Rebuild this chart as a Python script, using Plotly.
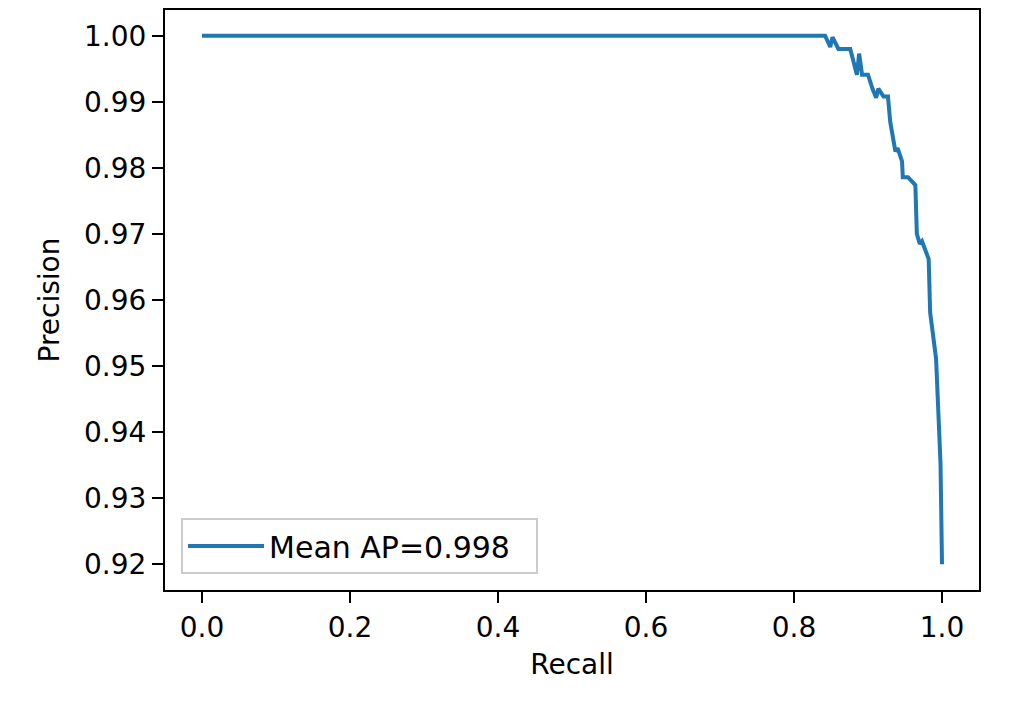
import plotly.graph_objects as go

recall = [0.0, 0.842, 0.849, 0.852, 0.860, 0.876, 0.885, 0.888, 0.892, 0.900,
          0.906, 0.911, 0.914, 0.921, 0.927, 0.930, 0.937, 0.940, 0.946, 0.947,
          0.954, 0.964, 0.966, 0.970, 0.973, 0.982, 0.984, 0.992, 0.995, 0.998, 1.0]
precision = [1.0, 1.0, 0.9983, 0.9998, 0.9980, 0.9980, 0.9941, 0.9973, 0.9941, 0.9941,
             0.9920, 0.9906, 0.9920, 0.9908, 0.9908, 0.9870, 0.9825, 0.9830, 0.9810, 0.9786,
             0.9786, 0.9774, 0.9700, 0.9685, 0.9689, 0.9662, 0.9581, 0.9511, 0.9432, 0.9352, 0.920]
series_name = "Mean AP=0.998"
x_ticks = [0.0, 0.2, 0.4, 0.6, 0.8, 1.0]
y_ticks = [0.92, 0.93, 0.94, 0.95, 0.96, 0.97, 0.98, 0.99, 1.00]

FONT = "DejaVu Sans"
FS = 28

fig = go.Figure()
fig.add_trace(go.Scatter(x=recall, y=precision, mode="lines", name=series_name,
                         line=dict(color="#1f77b4", width=4)))

axis_common = dict(showgrid=False, zeroline=False, showline=True, linecolor="black",
                   linewidth=2, mirror=True, ticks="outside", ticklen=11, tickwidth=2,
                   tickcolor="black", tickfont=dict(family=FONT, size=FS, color="black"))

fig.update_xaxes(range=[-0.05, 1.05], tickvals=x_ticks, ticktext=[f"{v:.1f}" for v in x_ticks],
                 title=dict(text="Recall", font=dict(family=FONT, size=FS, color="black"), standoff=12),
                 **axis_common)
fig.update_yaxes(range=[0.9161, 1.0039], tickvals=y_ticks, ticktext=[f"{v:.2f}" for v in y_ticks],
                 title=dict(text="Precision", font=dict(family=FONT, size=FS, color="black"), standoff=16),
                 **axis_common)

fig.update_layout(
    width=1011, height=718,
    margin=dict(l=157, r=40, t=0, b=136),
    paper_bgcolor="white", plot_bgcolor="white",
    showlegend=True,
    legend=dict(x=0.0197, y=0.0275, xanchor="left", yanchor="bottom",
                orientation="h", entrywidth=262, entrywidthmode="pixels",
                bgcolor="rgba(255,255,255,0.8)", bordercolor="#cccccc", borderwidth=2,
                font=dict(family=FONT, size=30, color="black"), itemwidth=76),
)

fig.write_html("out.html")
